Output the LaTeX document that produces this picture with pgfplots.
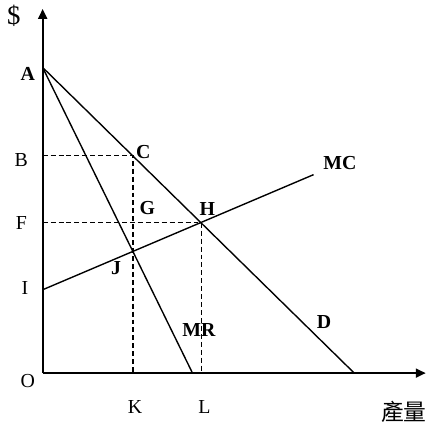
\documentclass[border=0pt]{standalone}
\usepackage{fontspec}
\setmainfont{Liberation Serif}
\newfontfamily\cjk{Noto Sans CJK TC}
\usepackage{pgfplots}
\pgfplotsset{compat=1.18}
\usetikzlibrary{arrows.meta}

\tikzset{
    lbl/.style={font=\fontsize{20}{22}\selectfont},
    blbl/.style={font=\fontsize{20}{22}\selectfont\bfseries},
}

\begin{document}
\begin{tikzpicture}
\begin{axis}[
    x=1pt, y=1pt,
    xmin=0, xmax=386,
    ymin=0, ymax=367,
    axis lines=left,
    axis line style={line width=2pt, -{Triangle[length=10pt,width=9pt]}},
    xtick=\empty, ytick=\empty,
    clip=false,
]
% demand D
\addplot[black, line width=1.4pt] coordinates {(0,308) (314,0)};
% marginal revenue MR
\addplot[black, line width=1.4pt] coordinates {(0,308) (151,0)};
% marginal cost MC
\addplot[black, line width=1.4pt] coordinates {(0,84) (273,200)};
% dashed guides
\addplot[black, line width=1.2pt, dash pattern=on 5pt off 3pt] coordinates {(0,219) (91,219) (91,0)};
\addplot[black, line width=1.2pt, dash pattern=on 5pt off 3pt] coordinates {(0,151.5) (160,151.5) (160,0)};

% page frame
\path (axis cs:-43,-47) rectangle (axis cs:387,376);

\node[font=\fontsize{27}{29}\selectfont] at (axis cs:-29,360) {\$};
\node[blbl] at (axis cs:-15,301) {A};
\node[lbl] at (axis cs:-21.5,215) {B};
\node[lbl] at (axis cs:-21.5,151.5) {F};
\node[lbl] at (axis cs:-18,86) {I};
\node[lbl] at (axis cs:-15,-8) {O};
\node[lbl] at (axis cs:93,-34) {K};
\node[lbl] at (axis cs:163,-34) {L};
\node[font=\fontsize{23}{25}\selectfont\cjk] at (axis cs:364,-39) {產量};
\node[blbl] at (axis cs:101.5,223) {C};
\node[blbl] at (axis cs:105.5,166) {G};
\node[blbl] at (axis cs:166,165) {H};
\node[blbl] at (axis cs:74,106) {J};
\node[blbl] at (axis cs:299.5,212) {MC};
\node[blbl] at (axis cs:157.5,43.5) {MR};
\node[blbl] at (axis cs:283.5,51) {D};
\end{axis}
\end{tikzpicture}
\end{document}
